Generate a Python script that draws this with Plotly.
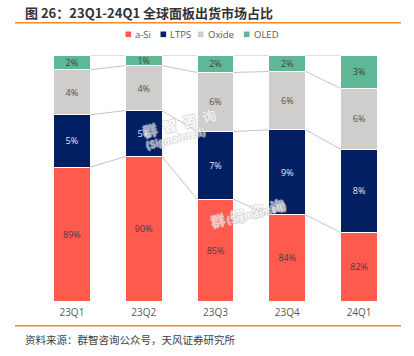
import plotly.graph_objects as go

# ---- data ----
categories = ["23Q1", "23Q2", "23Q3", "23Q4", "24Q1"]
series_names = ["a-Si", "LTPS", "Oxide", "OLED"]
# segment heights as drawn in the reference (share of bar height, %)
asi_drawn = [54.4, 58.7, 41.3, 35.0, 27.8]
ltps_drawn = [21.3, 18.7, 27.6, 34.6, 33.9]
oxide_drawn = [18.3, 18.3, 24.0, 23.7, 24.7]
oled_drawn = [6.0, 4.3, 7.1, 6.7, 13.6]
# data labels printed on the segments
asi_labels = ["89%", "90%", "85%", "84%", "82%"]
ltps_labels = ["5%", "5%", "7%", "9%", "8%"]
oxide_labels = ["4%", "4%", "6%", "6%", "6%"]
oled_labels = ["2%", "1%", "2%", "2%", "3%"]

title_text = "图 26：23Q1-24Q1 全球面板出货市场占比"
source_text = "资料来源：群智咨询公众号，天风证券研究所"

colors = ["#FF5A4D", "#031F63", "#D0CECC", "#5FB895"]
label_colors = ["#404040", "#E6E6E6", "#505050", "#404040"]

W, H = 414, 356
ML, MR, MT, MB = 36, 19, 55, 55
PW, PH = W - ML - MR, H - MT - MB


def px(x):
    return (x - ML) / PW


def py(y):
    return 1 - (y - MT) / PH


xs = list(range(len(categories)))
bar_w = 0.51

fig = go.Figure()
values = [asi_drawn, ltps_drawn, oxide_drawn, oled_drawn]
labels = [asi_labels, ltps_labels, oxide_labels, oled_labels]
for name, vals, labs, c, lc in zip(series_names, values, labels, colors, label_colors):
    fig.add_trace(go.Bar(
        x=xs, y=vals, name=name, width=bar_w,
        marker=dict(color=c, line=dict(color="white", width=1)),
        text=labs, textposition="inside", insidetextanchor="middle",
        textangle=0, constraintext="none",
        textfont=dict(family="Open Sans, Arial, sans-serif", size=9, color=lc),
        showlegend=False, hoverinfo="skip",
    ))

# series connector lines between bars
cum = [0.0] * len(categories)
for vals in values:
    cum = [a + b for a, b in zip(cum, vals)]
    for i in range(len(categories) - 1):
        fig.add_trace(go.Scatter(
            x=[xs[i] + bar_w / 2, xs[i + 1] - bar_w / 2],
            y=[cum[i], cum[i + 1]], mode="lines",
            line=dict(color="#C4C4C4", width=1),
            showlegend=False, hoverinfo="skip",
        ))

shapes = [
    dict(type="line", xref="paper", yref="paper", x0=px(15), x1=px(401),
         y0=py(22.7), y1=py(22.7), line=dict(color="#F28A2E", width=1.5)),
    dict(type="line", xref="paper", yref="paper", x0=px(15), x1=px(401),
         y0=py(325.7), y1=py(325.7), line=dict(color="#F28A2E", width=1.5)),
]
annotations = [
    dict(text=title_text, xref="paper", yref="paper", x=px(23), y=py(12),
         xanchor="left", yanchor="middle", showarrow=False,
         font=dict(family="Noto Sans CJK SC", size=13, color="#333333", weight="bold")),
    dict(text=source_text, xref="paper", yref="paper", x=px(23), y=py(339),
         xanchor="left", yanchor="middle", showarrow=False,
         font=dict(family="Noto Sans CJK SC", size=10.5, color="#404040")),
]

# legend built from markers + text
legend_x = [128.3, 163.3, 200.7, 246.7]
for name, c, lx in zip(series_names, colors, legend_x):
    shapes.append(dict(type="rect", xref="paper", yref="paper",
                       x0=px(lx - 2.8), x1=px(lx + 2.8), y0=py(34.3 + 2.8), y1=py(34.3 - 2.8),
                       fillcolor=c, line=dict(width=0)))
    annotations.append(dict(text=name, xref="paper", yref="paper", x=px(lx + 5), y=py(34.3),
                            xanchor="left", yanchor="middle", showarrow=False,
                            font=dict(family="Open Sans, Arial, sans-serif", size=9.5, color="#595959")))

# watermarks
wm_font = dict(family="Noto Sans CJK SC", color="white", weight="bold",
               shadow="1px 0 0 #C4C4C4, -1px 0 0 #C4C4C4, 0 1px 0 #C4C4C4, 0 -1px 0 #C4C4C4")
for (cx, cy), (ex, ey) in [((138, 102), (142, 121)), ((247, 213), (256, 230))]:
    annotations.append(dict(text="群  智  咨  询", xref="paper", yref="paper", x=px(cx), y=py(cy),
                            showarrow=False, textangle=-14, opacity=0.65,
                            font=dict(size=14, **wm_font)))
    annotations.append(dict(text="(Sigmaintell)", xref="paper", yref="paper", x=px(ex), y=py(ey),
                            showarrow=False, textangle=-14, opacity=0.65,
                            font=dict(size=9.5, **wm_font)))

fig.update_layout(
    width=W, height=H, margin=dict(l=ML, r=MR, t=MT, b=MB),
    barmode="stack", bargap=0.49,
    plot_bgcolor="white", paper_bgcolor="white",
    xaxis=dict(range=[-0.5, 4.5], tickvals=xs, ticktext=categories, showgrid=False,
               zeroline=False, showline=False, ticks="", ticklabelstandoff=4,
               tickfont=dict(family="Open Sans, Arial, sans-serif", size=10, color="#595959")),
    yaxis=dict(range=[0, 100], visible=False, showgrid=False, zeroline=False),
    uniformtext=dict(minsize=9, mode="show"),
    shapes=shapes, annotations=annotations,
)

fig.write_html("out.html", config={"displayModeBar": False},
               post_script="document.body.style.margin='0';")
